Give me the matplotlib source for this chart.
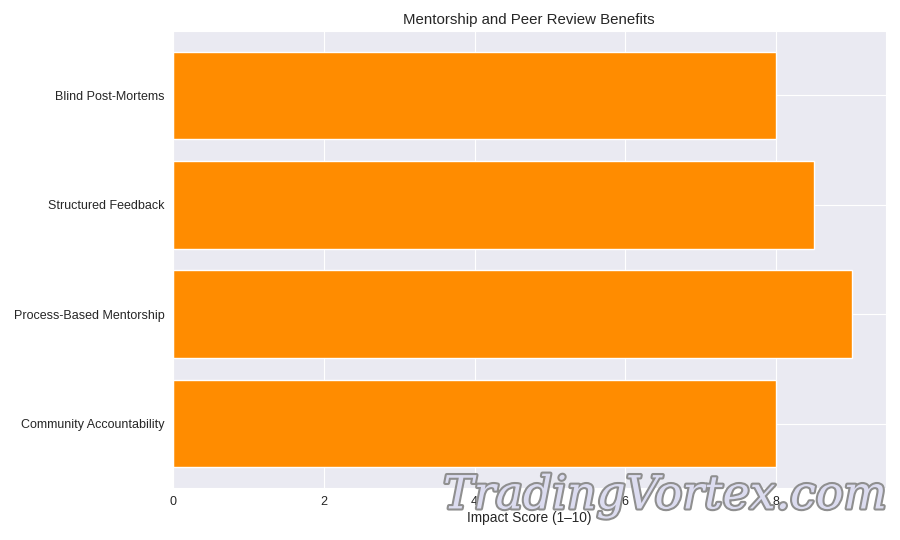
import matplotlib
matplotlib.use("Agg")
import matplotlib.pyplot as plt
import matplotlib.patheffects as pe
import seaborn as sns

categories = ["Community Accountability", "Process-Based Mentorship",
              "Structured Feedback", "Blind Post-Mortems"]
scores = [8, 9, 8.5, 8]

sns.set_style("darkgrid")
plt.rcParams["font.family"] = ["Liberation Sans", "DejaVu Sans"]

fig = plt.figure(figsize=(9, 5.4), dpi=100)
ax = fig.add_axes([0.192, 0.096, 0.792, 0.847])
ax.barh(categories, scores, color="#FF8C00")
ax.set_title("Mentorship and Peer Review Benefits", fontsize=10.8, color="#262626", pad=5)
ax.set_xlabel("Impact Score (1\u201310)", fontsize=9.9, color="#262626", labelpad=2)
ax.tick_params(axis="both", labelsize=9, colors="#262626", length=0, pad=6)

# watermark
fig.text(0.739, 0.082, "TradingVortex.com", fontsize=33, family="DejaVu Serif",
         style="italic", color="#dcdcf0", ha="center", va="center",
         path_effects=[pe.withStroke(linewidth=3, foreground="#8f8f8f")])

fig.savefig("out.png", dpi=100)
